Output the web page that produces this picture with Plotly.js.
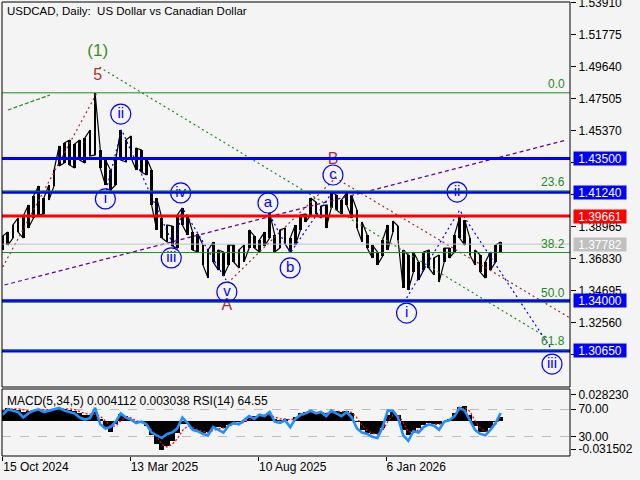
<!DOCTYPE html>
<html>
<head>
<meta charset="utf-8">
<script src="https://cdn.plot.ly/plotly-3.0.1.min.js"></script>
<style>html,body{margin:0;padding:0;background:#f4f4f4;}#chart{width:640px;height:480px;}</style>
</head>
<body>
<div id="chart"></div>
<script>
// ---------- data ----------
const STEP_DAYS = 6;
const HIGH = [1.3833,1.3859,1.3906,1.3953,1.3966,1.4040,1.4100,1.4167,1.4086,1.4173,
  1.4273,1.4434,1.4454,1.4474,1.4447,1.4474,1.4487,1.4541,1.4788,1.4407,
  1.4340,1.4273,1.4340,1.4541,1.4474,1.4501,1.4420,1.4407,1.4354,1.4273,
  1.4086,1.3953,1.3906,1.3899,1.3973,1.4020,1.3973,1.3859,1.3846,1.3772,
  1.3739,1.3792,1.3739,1.3726,1.3772,1.3772,1.3739,1.3772,1.3873,1.3833,
  1.3806,1.3859,1.3986,1.3839,1.3873,1.3886,1.3819,1.3906,1.3973,1.3980,
  1.4086,1.4060,1.4033,1.4040,1.4126,1.4106,1.4073,1.4120,1.4100,1.4006,
  1.3926,1.3839,1.3772,1.3726,1.3806,1.3906,1.3933,1.3899,1.3739,1.3706,
  1.3726,1.3659,1.3726,1.3739,1.3686,1.3706,1.3752,1.3752,1.3839,1.3959,
  1.3939,1.3819,1.3739,1.3706,1.3659,1.3726,1.3772,1.3792];
const LOW = [1.3739,1.3772,1.3819,1.3859,1.3819,1.3886,1.3953,1.3973,1.3980,1.4073,
  1.4167,1.4300,1.4320,1.4307,1.4287,1.4340,1.4320,1.4367,1.4374,1.4287,
  1.4173,1.4140,1.4173,1.4340,1.4327,1.4354,1.4273,1.4260,1.4240,1.4040,
  1.3873,1.3819,1.3792,1.3766,1.3752,1.3906,1.3839,1.3739,1.3726,1.3639,
  1.3552,1.3659,1.3605,1.3565,1.3639,1.3659,1.3619,1.3659,1.3752,1.3752,
  1.3726,1.3766,1.3819,1.3726,1.3752,1.3779,1.3726,1.3772,1.3873,1.3926,
  1.3973,1.3980,1.3953,1.3886,1.4020,1.4006,1.3980,1.4040,1.3953,1.3886,
  1.3792,1.3752,1.3686,1.3639,1.3699,1.3739,1.3859,1.3806,1.3485,1.3472,
  1.3592,1.3539,1.3605,1.3619,1.3572,1.3525,1.3659,1.3686,1.3726,1.3819,
  1.3772,1.3706,1.3639,1.3592,1.3552,1.3605,1.3659,1.3726];
const MACD = [0.012,0.014,0.013,0.012,0.010,0.011,0.012,0.012,0.011,0.012,
  0.013,0.014,0.013,0.012,0.011,0.008,0.006,0.006,0.009,0.002,
  -0.008,-0.012,-0.004,0.007,0.005,0.001,-0.002,-0.003,-0.006,-0.016,
  -0.026,-0.032,-0.028,-0.022,-0.014,-0.004,-0.004,-0.009,-0.012,-0.014,
  -0.013,-0.008,-0.007,-0.008,-0.005,-0.003,-0.002,-0.001,0.003,0.005,
  0.006,0.006,0.007,0.002,0.001,0.002,0.000,0.004,0.008,0.009,
  0.010,0.009,0.008,0.008,0.010,0.011,0.010,0.011,0.008,-0.002,
  -0.010,-0.014,-0.015,-0.015,-0.008,0.006,0.009,0.006,-0.010,-0.016,
  -0.012,-0.008,-0.005,-0.003,-0.004,-0.004,0.000,0.002,0.008,0.015,
  0.016,0.006,-0.006,-0.012,-0.013,-0.008,-0.001,0.004112];
const SIGNAL = [0.011,0.012,0.013,0.013,0.012,0.011,0.011,0.012,0.012,0.012,
  0.012,0.013,0.013,0.013,0.012,0.010,0.008,0.007,0.007,0.005,
  0.000,-0.006,-0.006,0.000,0.004,0.003,0.000,-0.002,-0.004,-0.010,
  -0.018,-0.026,-0.029,-0.026,-0.020,-0.011,-0.006,-0.007,-0.010,-0.012,
  -0.013,-0.011,-0.009,-0.008,-0.006,-0.004,-0.003,-0.002,0.001,0.003,
  0.005,0.006,0.006,0.004,0.002,0.002,0.001,0.002,0.005,0.007,
  0.009,0.009,0.009,0.008,0.009,0.010,0.010,0.010,0.009,0.003,
  -0.005,-0.011,-0.014,-0.015,-0.011,-0.001,0.006,0.007,-0.002,-0.012,
  -0.013,-0.010,-0.007,-0.004,-0.004,-0.004,-0.002,0.001,0.005,0.011,
  0.015,0.010,0.000,-0.008,-0.012,-0.010,-0.004,0.003038];
const RSI = [62,70,68,66,58,64,68,70,66,68,
  70,72,68,66,64,58,55,57,72,48,
  42,44,52,64,58,55,50,52,48,36,
  32,28,34,36,42,58,50,40,38,34,
  32,44,40,36,46,50,48,54,60,56,
  62,60,66,52,50,54,44,56,62,64,
  68,64,66,60,68,64,60,66,58,42,
  36,34,30,28,44,68,68,58,32,24,
  38,36,44,48,46,40,52,54,60,72,
  68,54,40,34,32,40,50,64.55];

const X_TICKS = ['2024-10-15','2025-03-13','2025-08-10','2026-01-06'];
const X_TICK_TEXT = ['15 Oct 2024','13 Mar 2025','10 Aug 2025','6 Jan 2026'];
const Y_TICKS = [1.53910,1.51775,1.49640,1.47505,1.45370,1.43235,1.41100,1.38965,1.36830,1.34695,1.32560,1.30425];
const Y_TICKS_COVERED = [1.43235,1.41100,1.30425];

const FIB_LEVELS = [1.4789,1.4133,1.3722,1.3390,1.3072];
const FIB_TEXT = ['0.0','23.6','38.2','50.0','61.8'];
const BLUE_LEVELS = [1.43500,1.41240,1.34000,1.30650];
const RED_LEVEL = 1.39661;
const LAST_PRICE = 1.37782;
const BOX_VALUES = [1.43500,1.41240,1.39661,1.37782,1.34000,1.30650];

// wave paths
const WAVE1_D = ['2025-02-13','2025-03-03','2025-05-04','2025-05-13','2025-07-03'];
const WAVE1_P = [1.4140,1.4541,1.3752,1.4020,1.3539];
const WAVE2_D = ['2025-08-23','2025-09-16','2025-11-06'];
const WAVE2_P = [1.3973,1.3719,1.4140];
const WAVE3_D = ['2026-01-30','2026-04-02','2026-07-19'];
const WAVE3_P = [1.3418,1.4006,1.3071];
const RED1_D = ['2024-10-15','2025-02-02'];
const RED1_P = [1.3625,1.4788];
const RED2_D = ['2025-07-05','2025-11-08','2026-08-09'];
const RED2_P = [1.3519,1.4220,1.3285];
const PURPLE_D = ['2024-10-17','2026-08-05'];
const PURPLE_P = [1.3505,1.4474];
const GREEN_D = ['2025-02-05','2026-07-14'];
const GREEN_P = [1.4961,1.3151];
const GREEN2_D = ['2024-10-21','2024-12-09'];
const GREEN2_P = [1.4674,1.4774];

const CIRCLE_D = ['2025-03-02','2025-02-12','2025-05-11','2025-04-30','2025-07-04','2025-08-21','2025-09-16','2025-11-05','2026-03-30','2026-01-30','2026-07-19'];
const CIRCLE_P = [1.4647,1.4080,1.4120,1.3686,1.3458,1.4053,1.3619,1.4240,1.4126,1.3318,1.2977];
const CIRCLE_T = ['ii','i','iv','iii','v','a','b','c','ii','i','iii'];
const RED_LBL_D = ['2025-07-04','2025-11-05','2025-02-03'];
const RED_LBL_P = [1.3365,1.4340,1.4901];
const RED_LBL_T = ['A','B','5'];
const GREEN_LBL_D = ['2025-02-03'];
const GREEN_LBL_P = [1.5062];
const GREEN_LBL_T = ['(1)'];

// ---------- build ----------
const t0 = Date.UTC(2024, 9, 15);
const dates = HIGH.map((_, i) => new Date(t0 + i * STEP_DAYS * 864e5).toISOString().slice(0, 10));
const px = [], py = [];
dates.forEach((d, i) => {
  px.push(d, d);
  if (i % 2 === 0) py.push(LOW[i], HIGH[i]); else py.push(HIGH[i], LOW[i]);
});

const FONT = 'Liberation Sans, Arial, sans-serif';
const traces = [];
// price range bars
traces.push({x: dates, y: HIGH.map((h, i) => h - LOW[i]), base: LOW, type: 'bar', width: 3.2 * 864e5,
  marker: {color: '#000', line: {width: 0}}, xaxis: 'x', yaxis: 'y', hoverinfo: 'skip'});
traces.push({x: px, y: py, type: 'scatter', mode: 'lines', line: {color: '#000', width: 1.2}, xaxis: 'x', yaxis: 'y', hoverinfo: 'skip'});
function ln(d, p, color, dash, w) {
  traces.push({x: d, y: p, type: 'scatter', mode: 'lines', line: {color: color, width: w || 1, dash: dash}, xaxis: 'x', yaxis: 'y', hoverinfo: 'skip'});
}
ln(PURPLE_D, PURPLE_P, '#660099', '4px,3px', 1.2);
ln(GREEN_D, GREEN_P, '#1f8a1f', '2px,3px', 1.2);
ln(GREEN2_D, GREEN2_P, '#1f8a1f', '4px,2px', 1.2);
ln(RED1_D, RED1_P, '#a52a2a', '2px,3px', 1.2);
ln(RED2_D, RED2_P, '#a52a2a', '2px,3px', 1.2);
ln(WAVE1_D, WAVE1_P, '#0000ff', '2px,3px', 1.2);
ln(WAVE2_D, WAVE2_P, '#0000ff', '2px,3px', 1.2);
ln(WAVE3_D, WAVE3_P, '#0000ff', '2px,3px', 1.2);

traces.push({x: CIRCLE_D, y: CIRCLE_P, text: CIRCLE_T, type: 'scatter', mode: 'markers+text', textposition: 'middle center',
  textfont: {family: FONT, size: 15, color: '#0000ff'},
  marker: {symbol: 'circle-open', size: 20, color: '#0000ff', line: {width: 1.2}}, xaxis: 'x', yaxis: 'y', hoverinfo: 'skip', cliponaxis: false});
traces.push({x: RED_LBL_D, y: RED_LBL_P, text: RED_LBL_T, type: 'scatter', mode: 'text', textposition: 'middle center',
  textfont: {family: FONT, size: 16, color: '#b03030'}, xaxis: 'x', yaxis: 'y', hoverinfo: 'skip'});
traces.push({x: GREEN_LBL_D, y: GREEN_LBL_P, text: GREEN_LBL_T, type: 'scatter', mode: 'text', textposition: 'middle center',
  textfont: {family: FONT, size: 17, color: '#3c8c1e'}, xaxis: 'x', yaxis: 'y', hoverinfo: 'skip'});

// lower panel
traces.push({x: dates, y: MACD, type: 'bar', marker: {color: '#000', line: {width: 0}}, width: STEP_DAYS * 864e5, xaxis: 'x', yaxis: 'y2', hoverinfo: 'skip'});
traces.push({x: dates, y: SIGNAL, type: 'scatter', mode: 'lines', line: {color: '#ff0000', width: 1.3, dash: '2px,2px'}, xaxis: 'x', yaxis: 'y2', hoverinfo: 'skip'});
traces.push({x: dates, y: RSI, type: 'scatter', mode: 'lines', line: {color: '#1e90ff', width: 2.6}, xaxis: 'x', yaxis: 'y3', hoverinfo: 'skip'});

const MAIN_DOM = [0.15198, 1];
const LOW_DOM = [0, 0.14758];
const shapes = [];
function hline(v, color, w) {
  shapes.push({type: 'line', xref: 'paper', x0: 0, x1: 1, yref: 'y', y0: v, y1: v, line: {color: color, width: w}, layer: 'above'});
}
hline(LAST_PRICE, '#c0c0c0', 1);
BLUE_LEVELS.forEach(v => hline(v, '#0000ff', 3));
hline(RED_LEVEL, '#ff0000', 3);
FIB_LEVELS.forEach(v => hline(v, '#1f8a1f', 1));
shapes.push({type: 'rect', xref: 'paper', yref: 'paper', x0: 0, x1: 1, y0: MAIN_DOM[0], y1: MAIN_DOM[1], line: {color: '#000', width: 1}, layer: 'above'});
shapes.push({type: 'rect', xref: 'paper', yref: 'paper', x0: 0, x1: 1, y0: LOW_DOM[0], y1: LOW_DOM[1], line: {color: '#000', width: 1}, layer: 'above'});

const annotations = [];
annotations.push({xref: 'paper', yref: 'paper', x: 0, y: 1, xanchor: 'left', yanchor: 'top', xshift: 3, yshift: -1, showarrow: false,
  text: 'USDCAD, Daily:  US Dollar vs Canadian Dollar', font: {family: FONT, size: 11.5, color: '#000'}});
annotations.push({xref: 'paper', yref: 'paper', x: 0, y: LOW_DOM[1], xanchor: 'left', yanchor: 'top', xshift: 3, yshift: -3, showarrow: false,
  text: 'MACD(5,34,5) 0.004112 0.003038 RSI(14) 64.55', font: {family: FONT, size: 12, color: '#000'}});
FIB_LEVELS.forEach((v, i) => annotations.push({xref: 'paper', yref: 'y', x: 1, y: v, xanchor: 'right', yanchor: 'bottom', xshift: -3, yshift: 0,
  showarrow: false, text: FIB_TEXT[i], font: {family: FONT, size: 12, color: '#1f8a1f'}}));
const BOX_COLORS = ['#0000ff', '#0000ff', '#ff0000', '#c0c0c0', '#0000ff', '#0000ff'];
BOX_VALUES.forEach((v, i) => annotations.push({xref: 'paper', yref: 'y', x: 1, y: v, xanchor: 'left', yanchor: 'middle', xshift: 3,
  showarrow: false, text: v.toFixed(5), bgcolor: BOX_COLORS[i], width: 52, height: 13, borderpad: 0, align: 'center',
  font: {family: FONT, size: 12, color: '#ffffff'}}));

const layout = {
  width: 640, height: 480,
  margin: {l: 2, r: 70, t: 2, b: 24, pad: 0},
  paper_bgcolor: '#f4f4f4', plot_bgcolor: '#f4f4f4',
  showlegend: false, bargap: 0, barmode: 'overlay',
  font: {family: FONT, size: 12, color: '#000'},
  xaxis: {type: 'date', range: ['2024-10-14 04:00', '2026-08-09'], anchor: 'y2', tickvals: X_TICKS, ticktext: X_TICK_TEXT,
    ticks: 'outside', ticklen: 4, tickcolor: '#000', ticklabelposition: 'outside right', showgrid: false, zeroline: false, showline: false,
    tickfont: {family: FONT, size: 12, color: '#000'}},
  yaxis: {domain: MAIN_DOM, range: [1.28239, 1.53957], side: 'right', tickvals: Y_TICKS,
    ticktext: Y_TICKS.map(v => Y_TICKS_COVERED.includes(v) ? '' : v.toFixed(5)), ticklabeloverflow: 'allow',
    ticks: 'outside', ticklen: 5, tickcolor: '#000', showgrid: false, zeroline: false, showline: false,
    tickfont: {family: FONT, size: 12, color: '#000'}},
  yaxis2: {domain: LOW_DOM, range: [-0.0389, 0.0348], side: 'right', tickvals: [0.02823, -0.031502], ticktext: ['0.028230', '-0.031502'],
    ticks: 'outside', ticklen: 5, tickcolor: '#000', showgrid: false, zeroline: false, showline: false, anchor: 'x',
    tickfont: {family: FONT, size: 12, color: '#000'}},
  yaxis3: {overlaying: 'y2', range: [1.8, 99.6], side: 'right', tickvals: [70, 30], ticktext: ['70.00', '30.00'],
    ticks: 'outside', ticklen: 5, tickcolor: '#000', showgrid: true, gridcolor: '#bdbdbd', griddash: 'dash', gridwidth: 1,
    zeroline: false, showline: false, anchor: 'x', tickfont: {family: FONT, size: 12, color: '#000'}},
  shapes: shapes,
  annotations: annotations
};
Plotly.newPlot('chart', traces, layout, {staticPlot: true, displayModeBar: false});
</script>
</body>
</html>
